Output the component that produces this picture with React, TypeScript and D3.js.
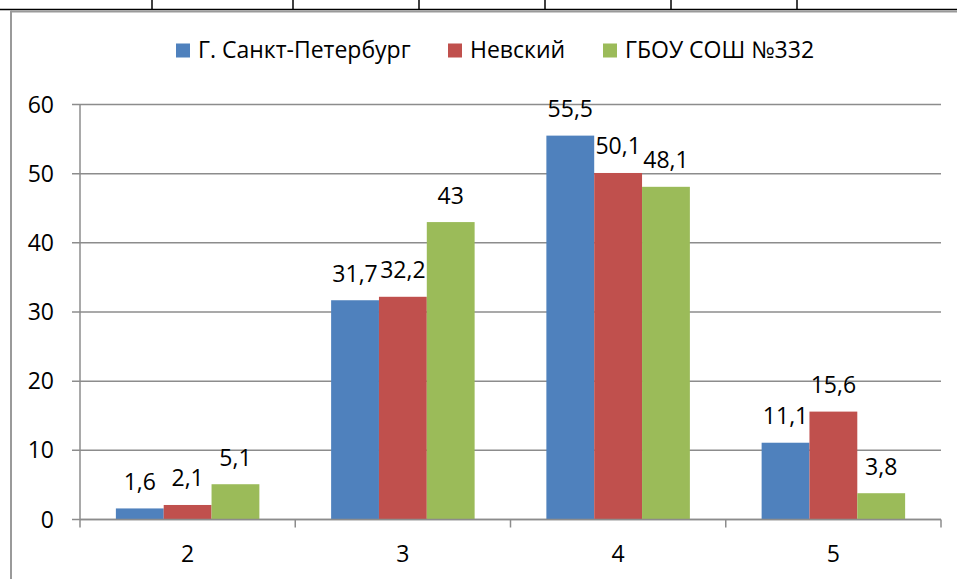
import React from 'react';
import * as d3 from 'd3';

const categories = ['2', '3', '4', '5'];
const seriesNames = ['Г. Санкт-Петербург', 'Невский', 'ГБОУ СОШ №332'];
const seriesColors = ['#4f81bd', '#c0504d', '#9bbb59'];
const spbValues = [1.6, 31.7, 55.5, 11.1];
const nevskyValues = [2.1, 32.2, 50.1, 15.6];
const schoolValues = [5.1, 43, 48.1, 3.8];
const yTicks = [0, 10, 20, 30, 40, 50, 60];
// vertical separators of the table row above the chart
const tableCols = [152, 293, 419, 545, 671, 797];

const FONT = '"Open Sans", sans-serif';
const FS = 23;

export default function App() {
  const width = 957;
  const height = 579;
  const margin = { left: 80, right: 16, top: 104.5, bottom: 59.5 };

  const x = d3
    .scaleBand<string>()
    .domain(categories)
    .range([margin.left, width - margin.right])
    .paddingInner(0)
    .paddingOuter(0);

  const xs = d3
    .scaleBand<number>()
    .domain([0, 1, 2])
    .range([0, x.bandwidth()])
    .paddingInner(0)
    .paddingOuter(0.75);

  const y = d3
    .scaleLinear()
    .domain([0, 60])
    .range([height - margin.bottom, margin.top]);

  const series = [spbValues, nevskyValues, schoolValues];
  const fmt = (v: number) => String(v).replace('.', ',');
  const gridColor = '#8c8c8c';
  const boundaries = [...categories.map((c) => x(c) as number), width - margin.right];

  // legend layout
  const legendItems = [
    { name: seriesNames[0], color: seriesColors[0], x: 176 },
    { name: seriesNames[1], color: seriesColors[1], x: 448 },
    { name: seriesNames[2], color: seriesColors[2], x: 603 },
  ];

  return (
    <svg
      width={width}
      height={height}
      style={{ position: 'absolute', left: 0, top: 0, background: '#fff' }}
      fontFamily={FONT}
    >
      {/* table row fragment above the chart */}
      <line x1={0} x2={width} y1={9.5} y2={9.5} stroke="#000" strokeWidth={1.5} />
      {tableCols.map((cx) => (
        <line key={cx} x1={cx} x2={cx} y1={0} y2={9.5} stroke="#000" strokeWidth={1.5} />
      ))}
      {/* chart frame */}
      <line x1={11} x2={width} y1={11.5} y2={11.5} stroke="#9a9a9a" strokeWidth={2} />
      <line x1={11} x2={11} y1={10.5} y2={height} stroke="#9a9a9a" strokeWidth={2} />

      {/* gridlines and y axis ticks */}
      {yTicks.map((t) => (
        <g key={t}>
          <line
            x1={margin.left - 8}
            x2={width - margin.right}
            y1={y(t)}
            y2={y(t)}
            stroke={gridColor}
            strokeWidth={1.5}
          />
          <text x={54} y={y(t)} dy="0.35em" textAnchor="end" fontSize={FS} fill="#000">
            {t}
          </text>
        </g>
      ))}
      <line
        x1={margin.left}
        x2={margin.left}
        y1={y(60)}
        y2={y(0)}
        stroke={gridColor}
        strokeWidth={1.5}
      />

      {/* bars */}
      {series.map((vals, si) =>
        vals.map((v, ci) => {
          const bx = (x(categories[ci]) as number) + (xs(si) as number);
          return (
            <g key={`${si}-${ci}`}>
              <rect
                x={bx}
                y={y(v)}
                width={xs.bandwidth()}
                height={y(0) - y(v)}
                fill={seriesColors[si]}
              />
              <text
                x={bx + xs.bandwidth() / 2}
                y={y(v) - 18.5}
                textAnchor="middle"
                fontSize={FS}
                fill="#000"
              >
                {fmt(v)}
              </text>
            </g>
          );
        }),
      )}

      {/* x axis */}
      <line
        x1={margin.left}
        x2={width - margin.right}
        y1={y(0)}
        y2={y(0)}
        stroke={gridColor}
        strokeWidth={1.5}
      />
      {boundaries.map((bx, i) => (
        <line key={i} x1={bx} x2={bx} y1={y(0)} y2={y(0) + 8} stroke={gridColor} strokeWidth={1.5} />
      ))}
      {categories.map((c) => (
        <text
          key={c}
          x={(x(c) as number) + x.bandwidth() / 2}
          y={562}
          textAnchor="middle"
          fontSize={FS}
          fill="#000"
        >
          {c}
        </text>
      ))}

      {/* legend */}
      {legendItems.map((it) => (
        <g key={it.name}>
          <rect x={it.x} y={43.5} width={14} height={14} fill={it.color} />
          <text x={it.x + 22} y={58} fontSize={FS} fill="#000">
            {it.name}
          </text>
        </g>
      ))}
    </svg>
  );
}
